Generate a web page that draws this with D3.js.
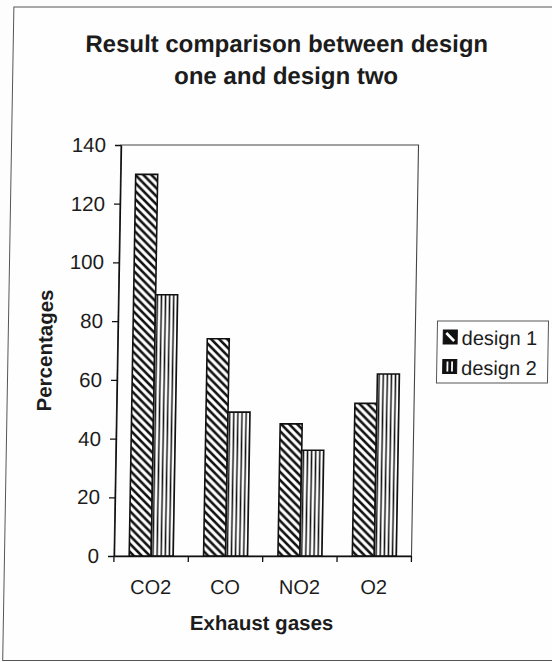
<!DOCTYPE html>
<html>
<head>
<meta charset="utf-8">
<script src="https://cdn.jsdelivr.net/npm/d3@7/dist/d3.min.js"></script>
<style>
  html, body { margin: 0; padding: 0; background: #fdfdfd; }
  svg { display: block; font-family: "Liberation Sans", Arial, Helvetica, sans-serif; }
</style>
</head>
<body>
<svg id="chart" width="552" height="662"></svg>
<script>
// ---- data ----
const categories = ["CO2", "CO", "NO2", "O2"];
const seriesNames = ["design 1", "design 2"];
const design1 = [130, 74, 45, 52];
const design2 = [89, 49, 36, 62];
const yTicks = [0, 20, 40, 60, 80, 100, 120, 140];
const titleLines = ["Result comparison between design", "one and design two"];
const xTitle = "Exhaust gases";
const yTitle = "Percentages";

// ---- layout ----
const W = 552, H = 662;
const plot = { left: 123.5, right: 421, top: 145, bottom: 556 };
const ink = "#1c1c1c";
const frameInk = "#555";

const svg = d3.select("#chart");

// patterns for the two series
const defs = svg.append("defs");
const hatch = defs.append("pattern")
  .attr("id", "pat-d1").attr("patternUnits", "userSpaceOnUse")
  .attr("width", 8).attr("height", 8);
hatch.append("rect").attr("width", 8).attr("height", 8).attr("fill", "#fff");
hatch.append("path")
  .attr("d", "M-2,-2L10,10M-2,6L2,10M6,-2L10,2")
  .attr("stroke", "#111").attr("stroke-width", 2.6);

const vert = defs.append("pattern")
  .attr("id", "pat-d2").attr("patternUnits", "userSpaceOnUse")
  .attr("width", 4.1).attr("height", 4);
vert.append("rect").attr("width", 4.1).attr("height", 4).attr("fill", "#fff");
vert.append("rect").attr("x", 1.3).attr("width", 1.5).attr("height", 4).attr("fill", "#111");

const fills = { "design 1": "url(#pat-d1)", "design 2": "url(#pat-d2)" };

// the whole sheet sits slightly sheared
const root = svg.append("g").attr("transform", "skewX(-0.98)");

// outer chart frame
root.append("rect")
  .attr("x", 14).attr("y", 7).attr("width", 560).attr("height", 653.5)
  .attr("fill", "#fefefe").attr("stroke", frameInk).attr("stroke-width", 1);

// title
root.append("text")
  .attr("x", 287.5).attr("y", 52)
  .attr("text-anchor", "middle")
  .attr("font-size", 24).attr("font-weight", "bold").attr("fill", ink)
  .selectAll("tspan").data(titleLines).join("tspan")
  .attr("x", 287.5).attr("dy", (d, i) => i === 0 ? 0 : 32.5)
  .text(d => d);

// scales
const x0 = d3.scaleBand().domain(categories).range([plot.left, plot.right]).padding(0);
const bw = x0.bandwidth();
const barW = 22;
const x1 = d3.scaleBand().domain(seriesNames).range([bw / 2 - barW, bw / 2 + barW]).padding(0);
const y = d3.scaleLinear().domain([0, 140]).range([plot.bottom, plot.top]);

// plot frame (top and right edges)
root.append("rect")
  .attr("x", plot.left).attr("y", y(140))
  .attr("width", plot.right - plot.left).attr("height", y(0) - y(140))
  .attr("fill", "none").attr("stroke", "#444").attr("stroke-width", 1.1);

// bars
const rows = categories.map((c, i) => ({ cat: c, values: [
  { name: seriesNames[0], v: design1[i] },
  { name: seriesNames[1], v: design2[i] }
] }));

root.append("g").selectAll("g").data(rows).join("g")
  .attr("transform", d => `translate(${x0(d.cat)},0)`)
  .selectAll("rect").data(d => d.values).join("rect")
  .attr("x", d => x1(d.name))
  .attr("y", d => y(d.v))
  .attr("width", x1.bandwidth())
  .attr("height", d => y(0) - y(d.v))
  .attr("fill", d => fills[d.name])
  .attr("stroke", "#111").attr("stroke-width", 1.6);

// y axis
const yAxis = root.append("g")
  .attr("transform", `translate(${plot.left},0)`)
  .call(d3.axisLeft(y).tickValues(yTicks).tickSize(6).tickSizeOuter(0).tickPadding(9));
yAxis.attr("font-family", null).attr("font-size", 20.5);
yAxis.select(".domain").attr("stroke", "#111").attr("stroke-width", 1.4);
yAxis.selectAll(".tick line").attr("stroke", "#111").attr("stroke-width", 1.3);
yAxis.selectAll(".tick text").attr("fill", ink);

// x axis: labels at category centres, ticks on category boundaries
const xAxis = root.append("g")
  .attr("transform", `translate(0,${plot.bottom})`)
  .call(d3.axisBottom(x0).tickSize(0).tickSizeOuter(0).tickPadding(24));
xAxis.attr("font-family", null).attr("font-size", 20);
xAxis.select(".domain").attr("stroke", "#111").attr("stroke-width", 1.4);
xAxis.selectAll(".tick text").attr("fill", ink);
const bounds = categories.map(c => x0(c)).concat([x0.range()[1]]);
xAxis.selectAll("line.bound").data(bounds).join("line")
  .attr("class", "bound")
  .attr("x1", d => d).attr("x2", d => d)
  .attr("y1", 0).attr("y2", 6)
  .attr("stroke", "#111").attr("stroke-width", 1.3);

// axis titles
root.append("text")
  .attr("x", (plot.left + plot.right) / 2).attr("y", 630.5)
  .attr("text-anchor", "middle")
  .attr("font-size", 20.5).attr("font-weight", "bold").attr("fill", ink)
  .text(xTitle);

root.append("text")
  .attr("transform", `translate(58,${(plot.top + plot.bottom) / 2}) rotate(-90)`)
  .attr("text-anchor", "middle")
  .attr("font-size", 20.5).attr("font-weight", "bold").attr("fill", ink)
  .text(yTitle);

// legend
const legend = root.append("g").attr("transform", "translate(443,321)");
legend.append("rect")
  .attr("width", 111).attr("height", 62)
  .attr("fill", "#fefefe").attr("stroke", frameInk).attr("stroke-width", 1);

const items = legend.selectAll("g.item").data(seriesNames).join("g")
  .attr("class", "item")
  .attr("transform", (d, i) => `translate(6,${9 + i * 29.5})`);

items.append("rect")
  .attr("width", 14).attr("height", 14)
  .attr("fill", "#111").attr("stroke", "#111").attr("stroke-width", 1);

// icon glyphs: a white diagonal for the hatched series, white bars for the striped one
items.filter((d, i) => i === 0).append("line")
  .attr("x1", 3).attr("y1", 3).attr("x2", 11).attr("y2", 11)
  .attr("stroke", "#fff").attr("stroke-width", 2.6);
items.filter((d, i) => i === 1).selectAll("line")
  .data([4.7, 9.3]).join("line")
  .attr("x1", d => d).attr("x2", d => d)
  .attr("y1", 2).attr("y2", 12)
  .attr("stroke", "#fff").attr("stroke-width", 1.8);

items.append("text")
  .attr("x", 18.5).attr("y", 15)
  .attr("font-size", 20).attr("fill", ink)
  .text(d => d);
</script>
</body>
</html>
